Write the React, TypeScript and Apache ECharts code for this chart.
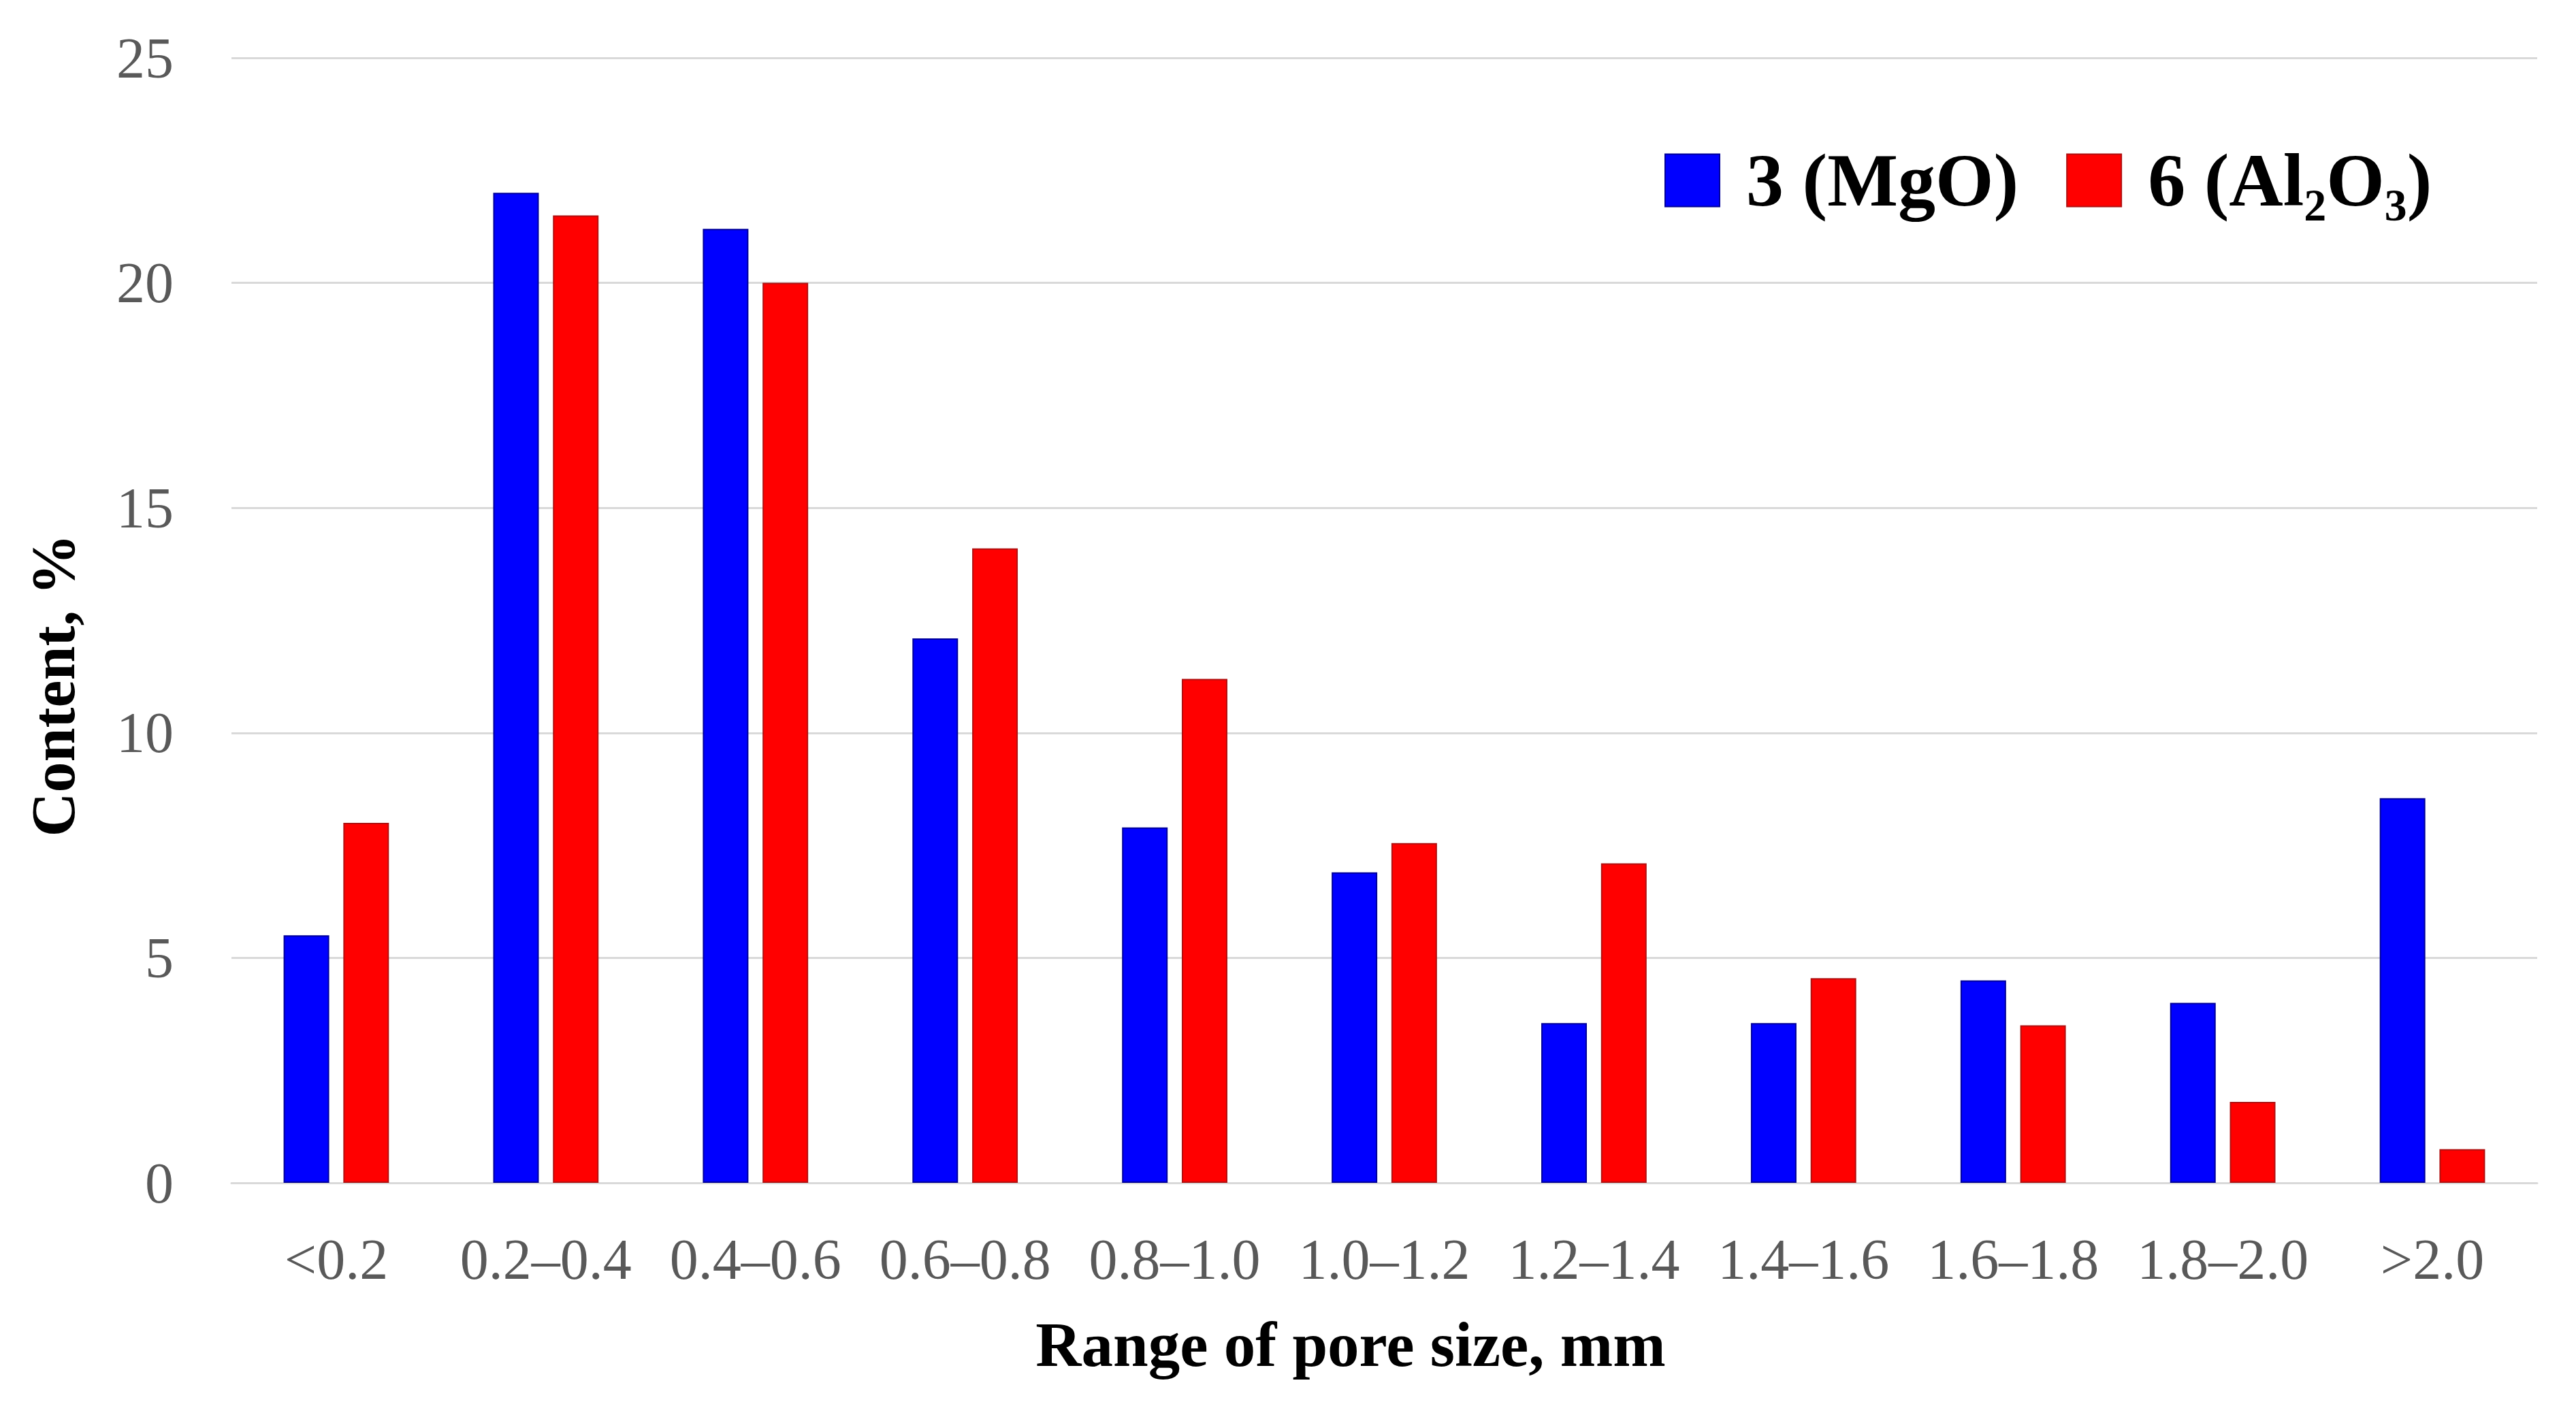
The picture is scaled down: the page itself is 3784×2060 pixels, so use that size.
import React, { useEffect, useRef } from "react";
import * as echarts from "echarts";

const categories = ["<0.2", "0.2–0.4", "0.4–0.6", "0.6–0.8", "0.8–1.0", "1.0–1.2", "1.2–1.4", "1.4–1.6", "1.6–1.8", "1.8–2.0", ">2.0"];
const mgoValues = [5.5, 22.0, 21.2, 12.1, 7.9, 6.9, 3.55, 3.55, 4.5, 4.0, 8.55];
const al2o3Values = [8.0, 21.5, 20.0, 14.1, 11.2, 7.55, 7.1, 4.55, 3.5, 1.8, 0.75];
const seriesNames = ["3 (MgO)", "6 (Al₂O₃)"];
const yTitle = "Content, %";
const xTitle = "Range of pore size, mm";

const FONT = "'Liberation Serif', 'DejaVu Serif', serif";

export default function App() {
  const ref = useRef<HTMLDivElement>(null);
  useEffect(() => {
    document.body.style.margin = "0";
    const chart = echarts.init(ref.current!, null, { renderer: "svg" });
    chart.setOption({
      animation: false,
      backgroundColor: "#ffffff",
      grid: { left: 340, right: 57, top: 85, bottom: 322 },
      legend: {
        left: 2440,
        top: 205,
        itemWidth: 80,
        itemHeight: 77,
        itemGap: 70,
        icon: "rect",
        textStyle: {
          fontFamily: FONT,
          fontWeight: "bold",
          fontSize: 110,
          color: "#000000",
          padding: [0, 0, 18, 34],
        },
        data: seriesNames,
      },
      xAxis: {
        type: "category",
        data: categories,
        axisTick: { show: false },
        axisLine: { lineStyle: { color: "#d9d9d9", width: 3 } },
        axisLabel: {
          fontFamily: FONT,
          fontSize: 84,
          color: "#595959",
          margin: 70,
          interval: 0,
        },
      },
      yAxis: {
        type: "value",
        min: 0,
        max: 25,
        interval: 5,
        axisLine: { show: false },
        axisTick: { show: false },
        splitLine: { lineStyle: { color: "#d9d9d9", width: 3 } },
        axisLabel: {
          fontFamily: FONT,
          fontSize: 84,
          color: "#595959",
          margin: 85,
        },
      },
      series: [
        {
          name: seriesNames[0],
          type: "bar",
          data: mgoValues,
          barWidth: 67,
          barGap: "31%",
          itemStyle: { color: "#0000ff", borderColor: "#00009a", borderWidth: 2 },
        },
        {
          name: seriesNames[1],
          type: "bar",
          data: al2o3Values,
          barWidth: 67,
          barGap: "31%",
          itemStyle: { color: "#ff0000", borderColor: "#b01010", borderWidth: 2 },
        },
      ],
      graphic: [
        {
          type: "text",
          x: 78,
          y: 1007,
          rotation: Math.PI / 2,
          style: {
            text: yTitle,
            fontFamily: FONT,
            fontWeight: "bold",
            fontSize: 90,
            fill: "#000000",
            align: "center",
            verticalAlign: "middle",
          },
        },
        {
          type: "text",
          x: 1984,
          y: 1975,
          style: {
            text: xTitle,
            fontFamily: FONT,
            fontWeight: "bold",
            fontSize: 93,
            fill: "#000000",
            align: "center",
            verticalAlign: "middle",
          },
        },
      ],
    });
    return () => chart.dispose();
  }, []);
  return <div ref={ref} style={{ width: 3784, height: 2060 }} />;
}
